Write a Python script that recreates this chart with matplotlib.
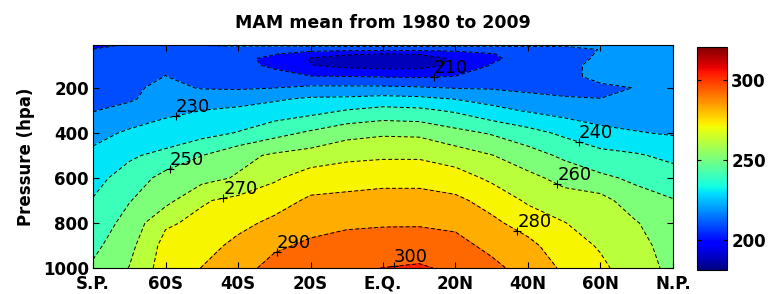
import numpy as np
import matplotlib
matplotlib.use("Agg")
import matplotlib.pyplot as plt
from matplotlib import colors

# eixo x: rótulos igualmente espaçados (como no gráfico original)
lat_ticks = [-90, -60, -40, -20, 0, 20, 40, 60, 90]
tick_labels = ["S.P.", "60S", "40S", "20S", "E.Q.", "20N", "40N", "60N", "N.P."]

# grade dos dados
lats = [-90, -75, -60, -50, -40, -30, -20, -10, 0, 10, 20, 30, 40, 50, 60, 75, 90]
levs = [10, 30, 50, 70, 100, 150, 200, 250, 300, 400, 500, 600, 700, 800, 900, 1000]

# temperatura média zonal (K), uma linha por nível de pressão
temp = [
    [201, 213, 216, 220.2, 221.5, 222, 222.5, 223, 223.5, 223.5, 223, 222.5, 222, 221, 220.5, 221.5, 224],
    [211, 215, 217, 217.5, 216, 214, 213.5, 213, 212.5, 212.5, 213, 214, 216, 217.5, 220.2, 222, 224.5],
    [214, 216, 218, 217, 213, 210.5, 205, 201, 199.8, 200.5, 205, 209.5, 214, 216.5, 220.8, 222.5, 225],
    [215, 216.5, 218.5, 216.5, 212, 208, 199.5, 196.5, 195, 195.5, 201.5, 208.5, 213.5, 217, 221.2, 223, 225],
    [216, 217, 219.3, 216.5, 212.5, 208.5, 200.3, 197, 195.5, 196, 202, 210.5, 214, 218.5, 221.5, 223, 225],
    [217, 218, 220.1, 217.5, 215, 213, 210.5, 210.2, 209.5, 209, 210.3, 214.5, 216, 219, 221, 222.5, 224.5],
    [217.5, 218.5, 222, 219.5, 219, 219.8, 222, 222, 222, 221, 219.5, 219, 218.5, 218.5, 219.3, 220.1, 224],
    [218.5, 218.8, 224.5, 224.5, 225.5, 228.8, 231.5, 232, 233.5, 232.5, 229.8, 227, 222, 220.5, 220.05, 220.8, 224],
    [219.5, 223, 228.4, 230, 232, 234, 236.5, 240.3, 243, 242, 238.5, 232.5, 229, 226, 224, 224.5, 225.5],
    [226.5, 231.5, 233, 236.5, 240.5, 246.5, 251.5, 256.5, 258.5, 258, 253, 249, 243.5, 238, 233, 230.5, 229],
    [232.5, 238.5, 243, 249.8, 257, 261.5, 264, 267.5, 268.5, 268.5, 265, 260.3, 254.5, 248, 243, 241, 237.5],
    [237, 244, 253.4, 256.5, 261, 268.5, 275, 276, 277, 277, 274.5, 268, 262.5, 257, 252, 248, 244.5],
    [240.5, 249.5, 256.8, 269, 272.5, 276, 281.5, 282.5, 283.5, 283.5, 282, 276.5, 268.5, 264, 263.5, 254, 250.5],
    [244, 253.5, 268.5, 272.5, 277.5, 282, 287, 288.5, 289, 289, 288, 282, 276, 270.3, 265.5, 260.5, 253.5],
    [247.5, 257, 273.5, 276.5, 282.3, 288.5, 291.5, 293.5, 294.5, 295, 293, 287.5, 282.5, 274.5, 269, 263, 256],
    [251.5, 260.3, 275, 280.2, 286.5, 293, 295.5, 298.5, 300.1, 301.2, 298, 292.5, 286, 278.5, 272, 264.5, 257.5],
]

# rótulos das isolinhas
lab_lev = [210, 230, 240, 250, 260, 270, 280, 290, 300]
lab_lat = [14, -57, 54, -59, 48, -44, 37, -29, 3]
lab_p = [152, 330, 441, 555, 630, 698, 835, 937, 990]

plt.rcParams["lines.dashed_pattern"] = [4, 2.5]

xpos = np.interp(lats, lat_ticks, np.arange(len(lat_ticks)))
X, P = np.meshgrid(xpos, levs)
T = np.array(temp)

fig = plt.figure(figsize=(7.7, 2.94), dpi=100)
ax = fig.add_axes([0.1208, 0.0884, 0.7532, 0.7585])

clev = np.arange(190, 320, 10)
# cor da faixa = cor do nível inferior (estilo matlab)
fill_norm = colors.Normalize(183, 317)
fill_cols = plt.cm.jet(fill_norm(clev[:-1]))
ax.contourf(X, P, T, levels=clev, colors=fill_cols)
ax.contour(X, P, T, levels=clev, colors="k", linewidths=0.7, linestyles="dashed")

# contorno invisível só para posicionar os rótulos
cs_lab = ax.contour(X, P, T, levels=lab_lev, colors="k", linewidths=0)
manual = list(zip(np.interp(lab_lat, lat_ticks, np.arange(len(lat_ticks))), lab_p))
txts = ax.clabel(cs_lab, manual=manual, inline=False, fontsize=13, colors="k")
for t in txts:
    x, y = t.get_position()
    t.set_rotation(0)
    t.set_ha("left")
    t.set_va("bottom")
    ax.plot(x, y, "+", color="k", ms=6, mew=0.8)

ax.set_xlim(0, len(lat_ticks) - 1)
ax.set_ylim(1000, 10)
ax.set_xticks(np.arange(len(lat_ticks)), tick_labels)
ax.set_yticks([200, 400, 600, 800, 1000])
ax.tick_params(direction="in", top=True, right=True, length=4, width=0.8, labelsize=12, pad=3)
ax.tick_params(axis="x", pad=5)
for lb in ax.get_xticklabels() + ax.get_yticklabels():
    lb.set_fontweight("bold")
ax.set_ylabel("Pressure (hpa)", fontsize=12, fontweight="bold", labelpad=6)
ax.set_title("MAM mean from 1980 to 2009", fontsize=12.5, fontweight="bold", pad=12)

cax = fig.add_axes([0.9052, 0.0816, 0.039, 0.7585])
sm = plt.cm.ScalarMappable(norm=colors.Normalize(181, 321), cmap="jet")
cb = fig.colorbar(sm, cax=cax, ticks=[200, 250, 300])
cb.ax.tick_params(direction="in", length=3, left=True, right=True, labelsize=12, pad=3)
for lb in cb.ax.get_yticklabels():
    lb.set_fontweight("bold")
cb.outline.set_linewidth(0.8)

fig.savefig("out.png", dpi=100)
